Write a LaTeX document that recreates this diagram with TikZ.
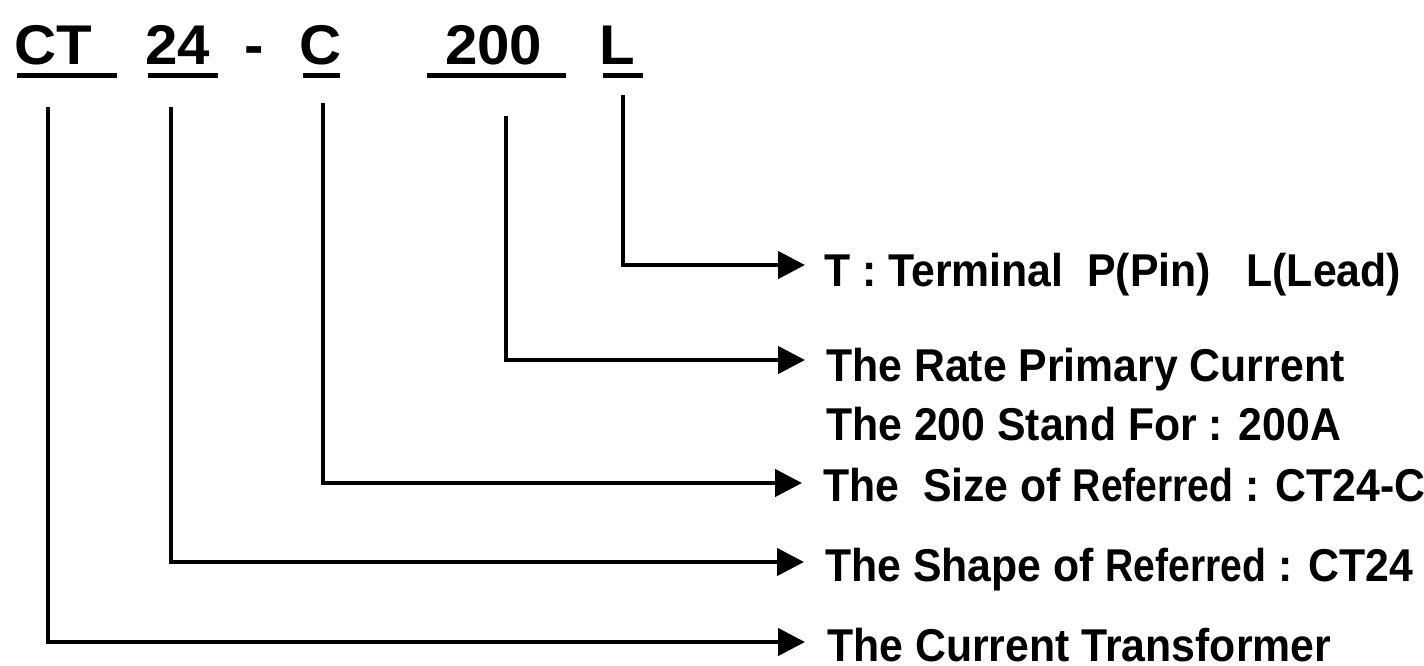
\documentclass[tikz,border=0pt]{standalone}
\usepackage{fontspec}
\newfontfamily\labfont{Liberation Sans}[FakeStretch=0.93]
\newfontfamily\refont{Liberation Sans}[FakeStretch=0.85]
\newfontfamily\titlefont{Liberation Sans}[FakeStretch=1.04]
\usetikzlibrary{arrows.meta}
\begin{document}
\begin{tikzpicture}[x=1pt,y=-1pt,
  titletext/.style={font=\titlefont\bfseries\fontsize{56}{56}\selectfont, anchor=base west, inner sep=0pt},
  labeltext/.style={font=\labfont\bfseries\fontsize{46}{50}\selectfont, anchor=base west, inner sep=0pt},
  uline/.style={line width=5pt},
  conn/.style={line width=4.5pt, -{Triangle[length=27pt,width=27pt]}}]
\useasboundingbox[fill=white] (0,0) rectangle (1424,665);

% title
\node[titletext] (ct)   at (14,64)  {CT};
\node[titletext] (n24)  at (145,64) {24};
\node[titletext] (dash) at (244,64) {-};
\node[titletext] (cc)   at (299,64) {C};
\node[titletext] (n200) at (445,64) {200};
\node[titletext] (ll)   at (599,64) {L};

\draw[uline] (17,75) -- (117,75);
\draw[uline] (148,75) -- (218,75);
\draw[uline] (303,75) -- (340,75);
\draw[uline] (427,75) -- (566,75);
\draw[uline] (603,75) -- (643,75);

% labels
\node[labeltext] (term)  at (824,286) {T : Terminal\ \ P(Pin)\ \ \ L(Lead)};
\node[labeltext] (rate)  at (826,381) {The Rate Primary Current};
\node[labeltext] (rateb) at (826,440) {The 200 Stand For : 200A};
\node[labeltext] (size)  at (823,501) {The\ \ Size of {\refont Referred} : CT24-C};
\node[labeltext] (shape) at (825,581) {The Shape of {\refont Referred} : CT24};
\node[labeltext] (cur)   at (827,661) {The Current Transformer};

% connector coordinates
\coordinate (ctTop)   at (48,107);
\coordinate (n24Top)  at (171,107);
\coordinate (ccTop)   at (323,103);
\coordinate (n200Top) at (506,116);
\coordinate (llTop)   at (623,95);
\coordinate (llTip)   at (805,265);
\coordinate (n200Tip) at (805,360);
\coordinate (ccTip)   at (802,483);
\coordinate (n24Tip)  at (804,562);
\coordinate (ctTip)   at (805,642);

\draw[conn] (llTop) |- (llTip);
\draw[conn] (n200Top) |- (n200Tip);
\draw[conn] (ccTop) |- (ccTip);
\draw[conn] (n24Top) |- (n24Tip);
\draw[conn] (ctTop) |- (ctTip);
\end{tikzpicture}
\end{document}
